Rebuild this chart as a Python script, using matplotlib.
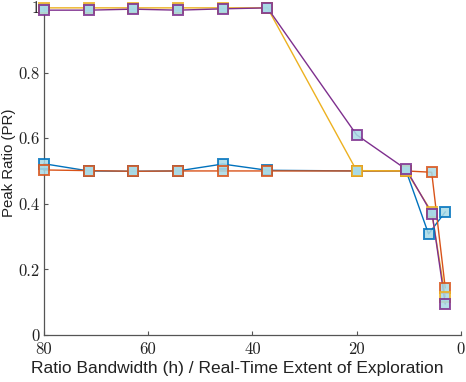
import matplotlib
matplotlib.use("Agg")
import matplotlib.pyplot as plt
from matplotlib.ticker import FuncFormatter

# x positions (ratio bandwidth) per series
x_common = [80, 71.4, 62.9, 54.3, 45.7, 37.1, 20, 10.5]

x_blue = x_common + [6.2, 3.0]
y_blue = [0.522, 0.500, 0.499, 0.500, 0.521, 0.502, 0.500, 0.500, 0.308, 0.375]

x_orange = x_common + [5.6, 3.0]
y_orange = [0.503, 0.501, 0.499, 0.500, 0.500, 0.500, 0.500, 0.500, 0.496, 0.144]

x_yellow = x_common + [5.6, 3.0]
y_yellow = [0.997, 0.997, 0.997, 0.997, 0.997, 0.997, 0.501, 0.500, 0.375, 0.117]

x_purple = x_common + [5.5, 3.0]
y_purple = [0.990, 0.990, 0.993, 0.990, 0.994, 0.997, 0.610, 0.505, 0.368, 0.095]

series = [
    (x_blue, y_blue, "#0072BD"),
    (x_orange, y_orange, "#D95319"),
    (x_yellow, y_yellow, "#EDB120"),
    (x_purple, y_purple, "#7E2F8E"),
]

fig = plt.figure(figsize=(4.66, 3.82), dpi=100)
ax = fig.add_axes([0.094, 0.123, 0.895, 0.859])

for xs, ys, col in series:
    ax.plot(xs, ys, "-", color=col, lw=1.0, clip_on=False)
    ax.plot(xs, ys, "s", ms=7, mfc="#A8DAE6", mec=col, mew=1.4, alpha=0.85,
            clip_on=False, zorder=3)

ax.set_xlim(80, 0)
ax.set_ylim(0, 1)
ax.set_xticks([80, 60, 40, 20, 0])
ax.set_yticks([0, 0.2, 0.4, 0.6, 0.8, 1])

fmt = FuncFormatter(lambda v, p: "%g" % round(v, 2))
ax.xaxis.set_major_formatter(fmt)
ax.yaxis.set_major_formatter(fmt)

for s in ["top", "right"]:
    ax.spines[s].set_visible(False)
for s in ["left", "bottom"]:
    ax.spines[s].set_color("#555555")
    ax.spines[s].set_linewidth(0.9)

ax.tick_params(direction="in", length=3, width=0.8, color="#555555",
               labelsize=12, labelcolor="#222222")
ax.tick_params(axis="x", pad=5)
ax.tick_params(axis="y", pad=3)
for lbl in ax.get_xticklabels() + ax.get_yticklabels():
    lbl.set_family("cmr10")

ax.set_xlabel("Ratio Bandwidth (h) / Real-Time Extent of Exploration",
              fontsize=12.5, family="Liberation Sans", color="#222222")
ax.set_ylabel("Peak Ratio (PR)", fontsize=10.8, family="Liberation Sans",
              color="#222222")
ax.xaxis.set_label_coords(0.463, -0.08)
ax.yaxis.set_label_coords(-0.066, 0.524)

fig.savefig("out.png", dpi=100)
